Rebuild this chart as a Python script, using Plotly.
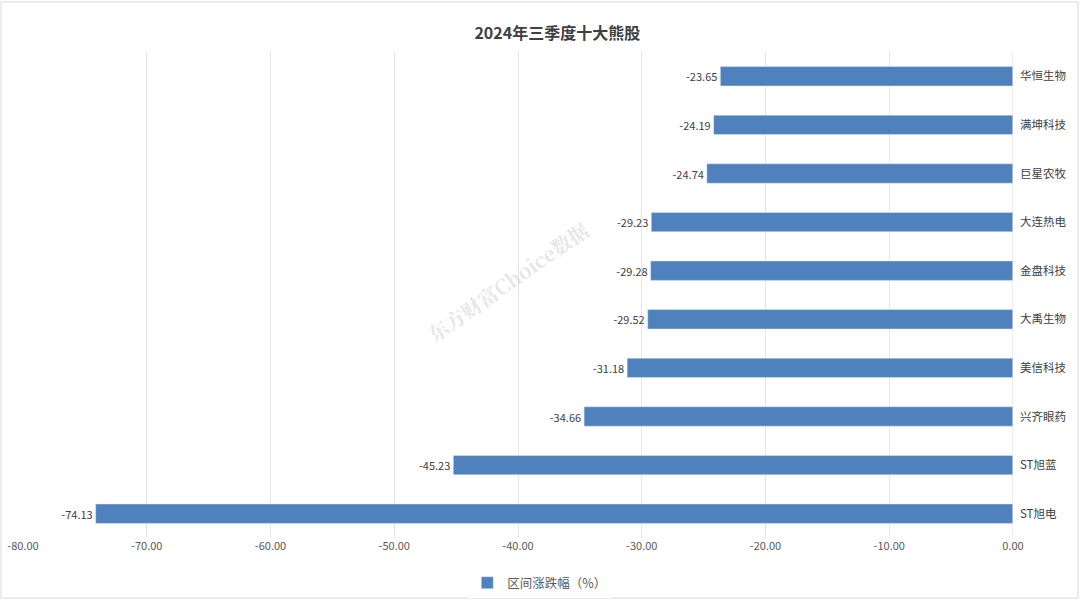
import plotly.graph_objects as go

categories = ["华恒生物", "满坤科技", "巨星农牧", "大连热电", "金盘科技",
              "大禹生物", "美信科技", "兴齐眼药", "ST旭蓝", "ST旭电"]
values = [-23.65, -24.19, -24.74, -29.23, -29.28, -29.52, -31.18, -34.66, -45.23, -74.13]
tick_vals = [-80, -70, -60, -50, -40, -30, -20, -10, 0]
tick_text = ["-80.00", "-70.00", "-60.00", "-50.00", "-40.00", "-30.00", "-20.00", "-10.00", "0.00"]

font_family = "Noto Sans CJK SC, Noto Sans, sans-serif"

fig = go.Figure()
fig.add_trace(go.Bar(
    y=categories, x=values, orientation="h",
    name="区间涨跌幅（%）",
    marker=dict(color="#4F81BD"),
    width=0.4,
    text=[f"{v:.2f}" for v in values],
    textposition="outside",
    textfont=dict(size=11, color="#404040", family=font_family),
    cliponaxis=False,
))

fig.update_layout(
    width=1080, height=601,
    margin=dict(l=23, r=67, t=52, b=63, autoexpand=False),
    paper_bgcolor="white", plot_bgcolor="white",
    font=dict(family=font_family, color="#595959", size=11),
    title=dict(text="<b>2024年三季度十大熊股</b>", x=0.516, xanchor="center",
               y=0.944, yanchor="middle",
               font=dict(size=16, color="#404040", family=font_family)),
    showlegend=True,
    legend=dict(orientation="h", x=0.522, xanchor="center", y=-0.062, yanchor="top",
                font=dict(size=12.5, color="#595959"), itemwidth=30),
    xaxis=dict(range=[-80, 0], tickvals=tick_vals, ticktext=tick_text,
               showgrid=True, gridcolor="#E6E6E6", gridwidth=1,
               zeroline=False, showline=False, ticks="", automargin=False,
               tickfont=dict(size=11, color="#595959")),
    yaxis=dict(categoryorder="array", categoryarray=categories[::-1],
               side="right", showgrid=False, zeroline=False, automargin=False,
               showline=False, ticks="", ticklabelstandoff=6,
               tickfont=dict(size=11.5, color="#404040")),
    bargap=0.6,
)

# category axis line at x=0
fig.add_shape(type="line", xref="x", yref="paper", x0=0, x1=0, y0=0, y1=1,
              line=dict(color="#D9D9D9", width=1))

# chart border
fig.add_shape(type="rect", xref="paper", yref="paper",
              x0=-0.0222, x1=1.0657, y0=-0.1235, y1=1.1029,
              line=dict(color="#D9D9D9", width=1))

# watermark
fig.add_annotation(text="<b>东方财富Choice数据</b>", xref="paper", yref="paper",
                   x=0.49, y=0.527, showarrow=False, textangle=-35,
                   font=dict(size=20, color="rgba(200,200,200,0.45)", family="Noto Serif CJK SC, serif"))

fig.write_html("out.html", config={"displayModeBar": False},
               post_script="document.body.style.margin='0';document.body.style.overflow='hidden';")
